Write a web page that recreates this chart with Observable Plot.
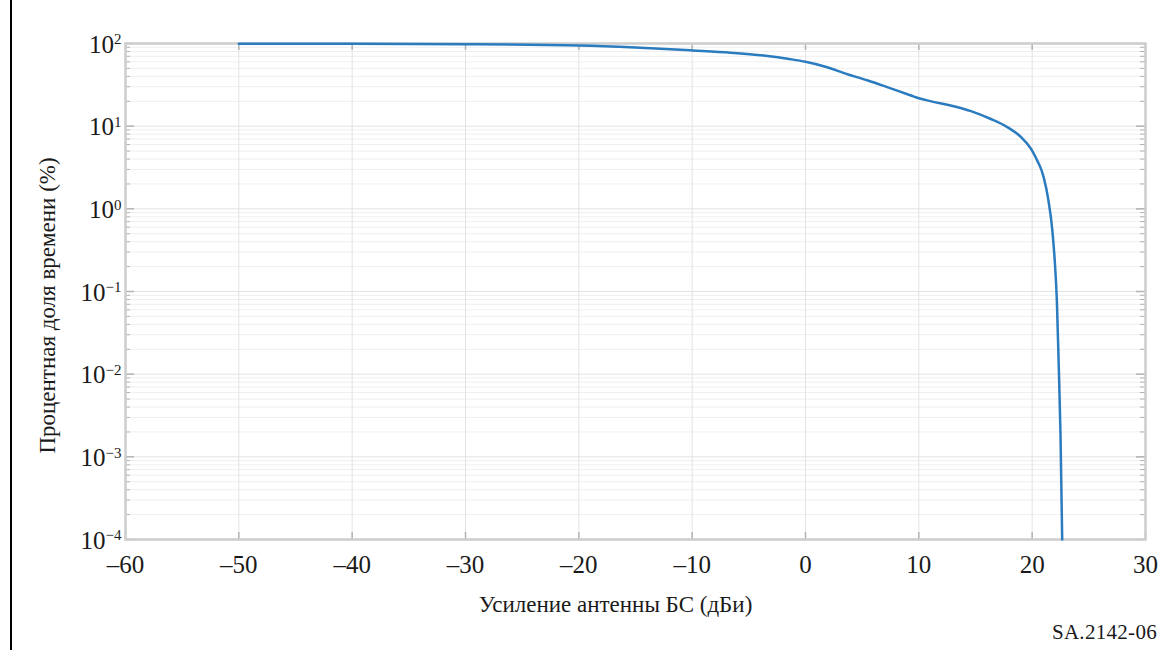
<!DOCTYPE html>
<html><head><meta charset="utf-8">
<script src="https://cdn.jsdelivr.net/npm/d3@7"></script>
<script src="https://cdn.jsdelivr.net/npm/@observablehq/plot@0.6"></script>
<style>
body{margin:0;background:#fff;}
#wrap{position:relative;width:1164px;height:650px;overflow:hidden;font-family:"Liberation Serif","Times New Roman",serif;color:#1a1a1a;background:#fff;}
#chart{position:absolute;left:0;top:0;}
#vline{position:absolute;left:10px;top:0;width:1.5px;height:650px;background:#000;z-index:5;}
#caption{position:absolute;right:7px;top:620px;font-size:21px;letter-spacing:0.3px;}
</style></head><body>
<div id="wrap"><div id="chart"></div><div id="vline"></div><div id="caption"></div></div>
<script>
// Data
const gain = [-50, -40, -30, -20, -15, -10, -6.6, -3.7, -1.3, 0, 1.6, 3.7, 5.5, 7.2, 9.3, 10, 11, 12.8, 14.6, 16.3, 17.8, 19, 19.9, 20.5, 20.8, 21.05, 21.4, 21.78, 22.03, 22.18, 22.35, 22.5, 22.65];
const percent = [99.5, 99, 98, 94.6, 89.5, 82.5, 77.5, 71.5, 64.5, 60, 53, 42.5, 35.7, 29.7, 23.5, 21.8, 20.1, 17.8, 15.2, 12.3, 9.75, 7.4, 5.3, 3.7, 3.0, 2.3, 1.35, 0.55, 0.195, 0.077, 0.0119, 0.00186, 0.0001];
const xTicks = [-60, -50, -40, -30, -20, -10, 0, 10, 20, 30];
const yExponents = [-4, -3, -2, -1, 0, 1, 2];
const xLabel = "Усиление антенны БС (дБи)";
const yLabel = "Процентная доля времени (%)";
const captionText = "SA.2142-06";

const yTicks = yExponents.map(e => Math.pow(10, e));
const yMinor = [];
for (const e of yExponents.slice(0, -1)) for (let k = 2; k <= 9; k++) yMinor.push(k * Math.pow(10, e));
const data = gain.map((g, i) => ({gain: g, pct: percent[i]}));

const W = 1164, H = 620, mL = 125, mR = 19, mT = 43, mB = 81;
const pw = W - mL - mR, ph = H - mT - mB;
const tickC = "#b3b3b3";
const font = '"Liberation Serif", "Times New Roman", serif';

const chart = Plot.plot({
  width: W, height: H,
  marginLeft: mL, marginRight: mR, marginTop: mT, marginBottom: mB,
  style: {fontFamily: font, fontSize: "23px", color: "#1a1a1a", background: "#fff"},
  x: {domain: [-60, 30]},
  y: {type: "log", domain: [1e-4, 100]},
  marks: [
    Plot.ruleY(yMinor, {stroke: "#efefef", strokeWidth: 1}),
    Plot.ruleY(yTicks, {stroke: "#e3e3e3", strokeWidth: 1}),
    Plot.ruleX(xTicks, {stroke: "#e3e3e3", strokeWidth: 1}),
    Plot.ruleX(xTicks, {stroke: tickC, strokeWidth: 1.5, insetTop: ph - 7}),
    Plot.ruleX(xTicks, {stroke: tickC, strokeWidth: 1.5, insetBottom: ph - 7}),
    Plot.ruleY(yTicks, {stroke: tickC, strokeWidth: 1.5, insetRight: pw - 9}),
    Plot.ruleY(yTicks, {stroke: tickC, strokeWidth: 1.5, insetLeft: pw - 9}),
    Plot.ruleY(yMinor, {stroke: tickC, strokeWidth: 1, insetRight: pw - 5}),
    Plot.ruleY(yMinor, {stroke: tickC, strokeWidth: 1, insetLeft: pw - 5}),
    Plot.frame({stroke: "#cdcdcd", strokeWidth: 2.5}),
    Plot.line(data, {x: "gain", y: "pct", stroke: "#2b7bbf", strokeWidth: 2.5, curve: "monotone-x"}),
    Plot.axisX(xTicks, {tickSize: 0, tickPadding: 16, label: null, fontSize: 25,
      tickFormat: d => d < 0 ? "\u2013" + Math.abs(d) : String(d)}),
    Plot.axisY(yTicks, {tickSize: 0, tickPadding: 4, label: null, fontSize: 25, dy: 1,
      tickFormat: d => "10^" + Math.round(Math.log10(d))}),
    Plot.text([xLabel], {frameAnchor: "bottom", textAnchor: "middle", dx: -20, dy: 72, fontSize: 23, fill: "#1a1a1a"}),
    Plot.text([yLabel], {frameAnchor: "left", textAnchor: "middle", rotate: -90, dx: -78, dy: 14, fontSize: 23, fill: "#1a1a1a"})
  ]
});

// superscript exponents on y tick labels
chart.querySelectorAll("text").forEach(t => {
  const m = /^10\^(-?\d+)$/.exec(t.textContent);
  if (!m) return;
  const exp = m[1].replace("-", "\u2212");
  t.textContent = "10";
  const ts = document.createElementNS("http://www.w3.org/2000/svg", "tspan");
  ts.setAttribute("dy", "-0.55em");
  ts.setAttribute("font-size", "0.6em");
  ts.textContent = exp;
  t.appendChild(ts);
});

document.getElementById("chart").appendChild(chart);
document.getElementById("caption").textContent = captionText;
</script>
</body></html>
